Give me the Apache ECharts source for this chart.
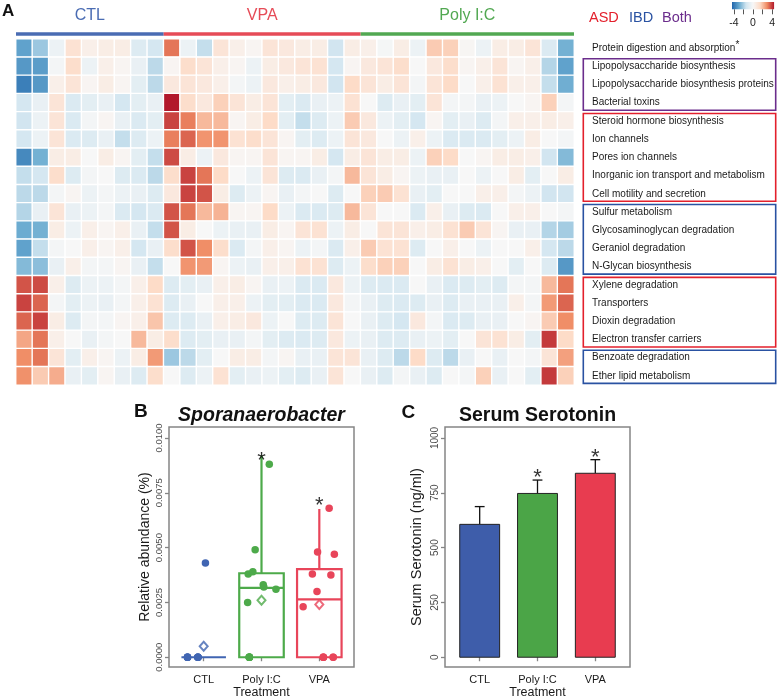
<!DOCTYPE html>
<html><head><meta charset="utf-8">
<script src="https://cdn.jsdelivr.net/npm/echarts@6/dist/echarts.min.js"></script>
<style>html,body{margin:0;padding:0;background:#fff}#c{width:778px;height:700px}</style>
</head><body><div id="c"></div>
<script>
const FONT = '"Liberation Sans", Arial, sans-serif';

// ---------- Panel A: heatmap ----------
const groupNames = ['CTL', 'VPA', 'Poly I:C'];
const groupSizes = [9, 12, 13];
const pathways = [
  'Protein digestion and absorption*',
  'Lipopolysaccharide biosynthesis',
  'Lipopolysaccharide biosynthesis proteins',
  'Bacterial toxins',
  'Steroid hormone biosynthesis',
  'Ion channels',
  'Pores ion channels',
  'Inorganic ion transport and metabolism',
  'Cell motility and secretion',
  'Sulfur metabolism',
  'Glycosaminoglycan degradation',
  'Geraniol degradation',
  'N-Glycan biosynthesis',
  'Xylene degradation',
  'Transporters',
  'Dioxin degradation',
  'Electron transfer carriers',
  'Benzoate degradation',
  'Ether lipid metabolism'
];
const heatValues = [
  [-2.8,-2.0,-0.4,1.0,0.4,0.5,0.5,-0.9,-1.2, 2.9,-0.4,-1.5,0.9,0.4,0.15,0.9,0.7,0.5,0.5,-1.3,0.5, 0.4,-0.1,0.5,-0.4,1.6,1.5,0.1,-0.4,0.5,0.5,0.9,-1.0,-2.5],
  [-3.0,-2.9,-0.15,1.2,-0.4,0.4,0.15,-0.5,-1.6, 0.15,1.2,0.9,0.4,0.15,-0.4,0.5,0.7,0.9,1.0,-1.2,0.15, 0.7,0.9,1.2,0.0,0.7,1.2,0.15,0.4,0.9,0.15,0.4,-1.7,-2.8],
  [-3.5,-3.0,0.4,0.9,0.15,0.5,0.15,-0.7,-1.6, 0.7,0.9,0.7,0.4,-0.15,-0.4,0.7,0.4,0.5,0.7,-1.3,1.3, 0.9,0.5,0.9,-0.15,0.9,1.3,0.0,0.4,1.0,0.4,0.4,-1.5,-2.55],
  [-1.2,-0.5,0.9,-1.0,-0.7,-0.5,-1.2,-0.7,-0.5, 4.0,1.2,0.7,1.5,0.9,0.5,0.9,-0.7,-1.0,-0.5,-0.4,1.0, 0.0,-0.9,-0.5,-0.7,0.9,-0.15,-0.15,-0.5,-0.4,0.0,0.15,1.5,-0.15],
  [-1.3,-0.4,0.9,-1.0,-0.15,0.15,-0.5,-1.0,-0.7, 3.5,2.8,1.9,1.9,0.15,0.5,1.3,-0.7,-1.5,-0.9,-0.4,1.6, 0.7,-0.4,-0.7,-1.2,0.15,-0.7,-0.5,-0.9,-0.15,0.4,0.4,0.5,0.4],
  [-1.2,-0.4,0.9,-1.0,-0.9,-0.5,-1.5,-0.9,-0.4, 2.8,3.1,2.5,2.5,1.0,1.2,0.9,0.15,-0.7,-0.9,-0.4,0.9, 0.7,0.0,-0.4,0.4,-0.4,-1.0,-1.0,-1.0,-0.7,-0.4,0.5,0.0,-0.15],
  [-3.3,-2.5,0.5,0.5,0.0,0.5,0.15,-0.7,-1.5, 3.4,0.5,-0.4,0.7,0.15,0.15,0.9,0.15,0.15,0.5,-1.2,0.5, 0.9,0.5,0.5,-0.4,1.5,1.3,0.0,0.15,0.5,0.5,0.4,-1.3,-2.3],
  [-1.5,-1.2,1.2,-0.9,-0.15,0.0,-0.9,-1.0,-1.6, 1.2,3.5,2.9,1.3,0.0,-0.4,0.9,-0.9,-1.0,-0.5,-0.15,1.9, 0.9,0.5,0.15,-0.4,-0.5,-0.5,0.0,-0.4,0.0,0.5,-0.7,0.0,0.5],
  [-1.6,-1.6,-0.15,0.15,-0.4,-0.15,-0.4,-0.5,-0.9, 0.7,3.5,3.3,0.5,-0.9,-0.4,0.15,-0.5,-0.15,0.0,-0.9,0.0, 1.5,1.6,1.0,-0.5,-0.7,0.0,0.0,0.4,0.4,-0.15,-0.4,-1.3,-1.3],
  [-1.7,-0.5,0.9,-0.5,-0.4,-0.15,-1.0,-1.2,-1.0, 3.3,2.9,1.9,2.0,0.15,0.15,1.3,-0.4,-1.0,-1.0,-0.9,1.9, 0.9,0.0,0.0,-1.0,0.4,-0.5,-0.9,-1.0,0.0,0.4,0.4,0.0,-0.15],
  [-2.6,-2.5,0.5,-0.4,0.4,0.15,0.4,-0.5,-1.5, 3.3,0.5,0.0,-0.4,-0.5,-0.5,0.5,0.15,0.9,1.0,-0.4,0.5, 0.0,0.9,0.9,0.4,0.5,1.0,1.6,0.9,0.15,-0.5,-0.5,-1.7,-1.9],
  [-2.8,-1.5,-0.15,0.0,0.4,0.15,0.4,-1.2,-0.5, 1.2,3.3,2.6,1.2,-1.0,-0.15,0.4,0.15,-0.4,-0.15,-1.0,0.4, 1.6,1.0,1.0,-0.9,0.0,0.4,0.0,-0.4,0.0,0.0,0.4,-1.2,-1.6],
  [-2.3,-2.2,-0.5,0.4,-0.15,-0.15,0.15,-0.5,-1.5, 0.0,2.5,2.4,0.15,-0.4,-0.5,0.4,0.4,1.0,1.0,-0.9,-0.4, 1.2,1.5,1.5,0.0,0.5,1.0,0.5,0.4,0.0,-0.7,0.0,-0.9,-3.0],
  [3.3,3.4,0.4,-0.9,-0.4,-0.4,-0.15,0.4,1.3, -0.9,-0.7,-0.5,0.4,0.5,0.15,-0.5,-0.4,-1.0,-1.0,0.7,-0.4, -0.9,-1.0,-1.0,0.0,-0.5,-1.0,-0.9,-0.7,-0.9,-0.15,-0.15,1.9,2.9],
  [3.5,3.1,-0.15,-0.7,-0.4,-0.5,-0.15,0.4,1.0, -0.9,-0.5,0.0,0.4,0.4,-0.4,-0.7,-0.7,-1.0,-1.0,0.7,-0.15, -0.5,-0.9,-1.0,-0.9,-0.5,-0.9,-0.5,-0.5,-0.5,0.4,-0.15,2.4,3.1],
  [3.1,3.5,0.5,-0.9,-0.15,-0.15,0.15,0.4,1.7, -0.9,-0.9,-0.5,0.4,0.5,0.7,-0.4,0.0,-0.9,-0.9,0.9,0.0, -0.5,-0.9,-1.2,0.7,-0.15,-1.0,-0.9,-0.5,-0.5,0.0,0.15,1.6,2.6],
  [2.2,2.9,0.4,0.0,-0.5,-0.15,0.0,1.9,0.5, 1.2,-0.9,-0.7,-0.5,-0.5,-0.15,-0.7,-0.9,-1.0,-0.9,0.7,-0.4, -0.5,-0.9,-0.9,-0.5,-0.4,-0.7,0.0,0.9,1.0,0.5,-0.7,3.6,1.3],
  [2.6,2.9,0.9,-0.7,0.4,0.15,-0.4,0.5,2.4, -2.0,-1.6,-0.7,0.0,0.5,0.5,-0.15,0.15,-0.5,-0.5,0.9,0.9, -0.5,-0.9,-1.6,1.3,-0.9,-1.6,-0.5,0.0,-0.5,0.0,-0.15,0.9,2.3],
  [2.55,1.6,2.1,-0.5,-0.7,0.15,-0.5,-0.9,1.2, 0.0,-0.9,-0.4,1.0,-0.7,-0.5,-0.4,-0.7,-0.9,-0.5,0.9,0.0, -0.5,-0.9,-0.15,-0.5,-0.9,0.0,-0.15,1.5,-0.5,0.0,-0.7,3.6,1.5]
];
// pathway group boxes: [first row, last row, category]
const rowBoxes = [[1, 3, 'Both'], [4, 8, 'ASD'], [9, 12, 'IBD'], [13, 16, 'ASD'], [17, 18, 'IBD']];
const legendCats = ['ASD', 'IBD', 'Both'];
const colorbarTicks = [-4, 0, 4];

// ---------- Panel B: Sporanaerobacter ----------
const treatments = ['CTL', 'Poly I:C', 'VPA'];
const abundCTL = [0, 0, 0, 0, 0, 0, 0, 0, 0.0043];
const jitterCTL = [-0.28, -0.1, -0.28, -0.1, -0.28, -0.1, -0.28, -0.1, 0.03];
const abundPoly = [0.0088, 0.0049, 0.0038, 0.0039, 0.0033, 0.0032, 0.0031, 0.0025, 0, 0, 0, 0, 0];
const jitterPoly = [0.135, -0.11, -0.23, -0.15, 0.03, 0.04, 0.25, -0.24, -0.21, -0.21, -0.21, -0.21, -0.21];
const abundVPA = [0.0068, 0.0048, 0.0047, 0.0038, 0.00375, 0.0030, 0.0023, 0, 0, 0, 0, 0];
const jitterVPA = [0.17, -0.03, 0.26, -0.12, 0.2, -0.04, -0.28, 0.07, 0.24, 0.07, 0.24, 0.07];
const boxLow = [0, 0, 0];
const boxQ1 = [0, 0, 0];
const boxMedian = [0, 0.00316, 0.00264];
const boxQ3 = [0, 0.00383, 0.00402];
const boxHigh = [0, 0.0092, 0.00676];
const abundMean = [0.0005, 0.0026, 0.0024];
const starB = [null, 0.00917, 0.00711];
const yTicksB = [0, 0.0025, 0.005, 0.0075, 0.01];

// ---------- Panel C: Serum serotonin ----------
const serotoninMean = [606, 747, 839];
const serotoninSE = [81, 61, 62];
const starC = [null, 842, 932];
const yTicksC = [0, 250, 500, 750, 1000];

// ---------- styling ----------
const rdbu = ['#2166AC', '#67A9CF', '#D1E5F0', '#F7F7F7', '#FDDBC7', '#EF8A62', '#B2182B'];
const groupColors = ['#4A6CB3', '#E64B57', '#52A852'];
const treatColors = ['#4065B2', '#4DAA4A', '#E8455A'];
const barColors = ['#3E5DAA', '#4BA547', '#E83C50'];
const catColors = {ASD: '#E3202C', IBD: '#2A52A2', Both: '#6B2D8C'};
const frameColor = '#858585';

const nCols = groupSizes.reduce((a, b) => a + b, 0);
const colIdx = Array.from({length: nCols}, (_, i) => String(i));
const heatData = [];
heatValues.forEach((row, r) => row.forEach((v, c) => heatData.push([c, r, v])));
let acc = 0;
const groupSpans = groupSizes.map((n, i) => { const s = [acc, 0, acc + n - 1, i]; acc += n; return s; });
const boxData = rowBoxes.map(b => [0, b[0], b[1], legendCats.indexOf(b[2])]);

function pointsOf(vals, jit, i) { return vals.map((v, k) => [i + 1 + jit[k], v]); }

const chart = echarts.init(document.getElementById('c'));
const option = {
  animation: false,
  backgroundColor: '#fff',
  textStyle: {fontFamily: FONT},
  visualMap: {show: false, type: 'continuous', min: -4, max: 4, seriesIndex: 0, dimension: 2, inRange: {color: rdbu}},
  grid: [
    {left: 16, top: 39, width: 558, height: 346},
    {left: 734, top: 2, width: 42, height: 7.3},
    {left: 169, top: 427, width: 185, height: 242, show: true, borderColor: frameColor, borderWidth: 1.5},
    {left: 445, top: 427, width: 185, height: 242, show: true, borderColor: frameColor, borderWidth: 1.5}
  ],
  xAxis: [
    {type: 'category', gridIndex: 0, data: colIdx, show: false},
    {type: 'value', gridIndex: 1, min: -4, max: 4, interval: 2, axisLine: {show: false}, splitLine: {show: false},
      axisTick: {show: true, length: 5, lineStyle: {color: '#555', width: 1}},
      axisLabel: {margin: 8, fontSize: 10.5, color: '#222', formatter: v => (colorbarTicks.indexOf(v) >= 0 ? String(v) : '')}},
    {type: 'value', gridIndex: 2, min: 0.4, max: 3.6, axisLine: {show: false}, splitLine: {show: false},
      axisTick: {show: true, customValues: [1, 2, 3], length: 4, lineStyle: {color: frameColor, width: 1.3}},
      axisLabel: {customValues: [1, 2, 3], formatter: v => treatments[Math.round(v) - 1], margin: 7, fontSize: 11, color: '#1a1a1a'},
      name: 'Treatment', nameLocation: 'middle', nameGap: 18, nameTextStyle: {fontSize: 12.5, color: '#1a1a1a'}},
    {type: 'value', gridIndex: 3, min: 0.4, max: 3.6, axisLine: {show: false}, splitLine: {show: false},
      axisTick: {show: true, customValues: [1, 2, 3], length: 4, lineStyle: {color: frameColor, width: 1.3}},
      axisLabel: {customValues: [1, 2, 3], formatter: v => treatments[Math.round(v) - 1], margin: 7, fontSize: 11, color: '#1a1a1a'},
      name: 'Treatment', nameLocation: 'middle', nameGap: 18, nameTextStyle: {fontSize: 12.5, color: '#1a1a1a'}}
  ],
  yAxis: [
    {type: 'category', gridIndex: 0, data: pathways, inverse: true, position: 'right',
      axisLine: {show: false}, axisTick: {show: false},
      axisLabel: {margin: 18, fontSize: 10, color: '#1a1a1a', interval: 0,
        formatter: v => v.endsWith('*') ? v.slice(0, -1) + '{s|*}' : v,
        rich: {s: {fontSize: 10, padding: [0, 0, 6, 0], color: '#1a1a1a'}}}},
    {type: 'value', gridIndex: 1, min: 0, max: 1, show: false},
    {type: 'value', gridIndex: 2, min: -0.00045, max: 0.0105, axisLine: {show: false}, splitLine: {show: false},
      axisTick: {show: true, customValues: yTicksB, length: 4, lineStyle: {color: frameColor, width: 1.3}},
      axisLabel: {customValues: yTicksB, formatter: v => v.toFixed(4), rotate: 90, margin: 5, fontSize: 9.5, color: '#4d4d4d'},
      name: 'Relative abundance (%)', nameLocation: 'middle', nameRotate: 90, nameGap: 17, nameTextStyle: {fontSize: 14, color: '#1a1a1a'}},
    {type: 'value', gridIndex: 3, min: -45, max: 1050, axisLine: {show: false}, splitLine: {show: false},
      axisTick: {show: true, customValues: yTicksC, length: 4, lineStyle: {color: frameColor, width: 1.3}},
      axisLabel: {customValues: yTicksC, formatter: v => String(v), rotate: 90, margin: 5, fontSize: 10, color: '#4d4d4d'},
      name: 'Serum Serotonin (ng/ml)', nameLocation: 'middle', nameRotate: 90, nameGap: 21, nameTextStyle: {fontSize: 14.5, color: '#1a1a1a'}}
  ],
  series: [
    {type: 'heatmap', xAxisIndex: 0, yAxisIndex: 0, data: heatData,
      itemStyle: {borderColor: '#fff', borderWidth: 1.4}, emphasis: {disabled: true}},
    {type: 'custom', xAxisIndex: 0, yAxisIndex: 0, data: groupSpans, encode: {x: 0, y: 1}, clip: false,
      renderItem: (params, api) => {
        const s = api.value(0), e = api.value(2), gi = api.value(3);
        const size = api.size([1, 1]);
        const x0 = api.coord([s, 0])[0] - size[0] / 2, x1 = api.coord([e, 0])[0] + size[0] / 2;
        const top = params.coordSys.y;
        return {type: 'group', children: [
          {type: 'rect', shape: {x: x0, y: top - 6.7, width: x1 - x0, height: 3.4}, style: {fill: groupColors[gi]}},
          {type: 'text', style: {text: groupNames[gi], x: (x0 + x1) / 2, y: top - 23, align: 'center', verticalAlign: 'middle',
            fill: groupColors[gi], fontSize: 16, fontFamily: FONT}}
        ]};
      }},
    {type: 'custom', xAxisIndex: 0, yAxisIndex: 0, data: boxData, encode: {x: 0, y: 1}, clip: false,
      renderItem: (params, api) => {
        const r0 = api.value(1), r1 = api.value(2), ci = api.value(3);
        const size = api.size([1, 1]);
        const cs = params.coordSys;
        const y0 = api.coord([0, r0])[1] - size[1] / 2 + 1.6;
        const y1 = api.coord([0, r1])[1] + size[1] / 2 - 1.6;
        const x0 = cs.x + cs.width + 9.3;
        return {type: 'rect', shape: {x: x0, y: y0, width: 192.4, height: y1 - y0},
          style: {fill: 'none', stroke: catColors[legendCats[ci]], lineWidth: 1.6}};
      }},
    {type: 'custom', xAxisIndex: 1, yAxisIndex: 1, data: [[0, 0.5]], encode: {x: 0, y: 1}, clip: false,
      renderItem: (params, api) => {
        const cs = params.coordSys;
        return {type: 'rect', shape: {x: cs.x - 2, y: cs.y, width: cs.width + 4, height: cs.height},
          style: {fill: new echarts.graphic.LinearGradient(0, 0, 1, 0, rdbu.map((c, i) => ({offset: i / (rdbu.length - 1), color: c})))}};
      }},
    {type: 'custom', xAxisIndex: 2, yAxisIndex: 2, encode: {x: 0, y: 3},
      data: treatments.map((t, i) => [i + 1, boxLow[i], boxQ1[i], boxMedian[i], boxQ3[i], boxHigh[i], i]),
      renderItem: (params, api) => {
        const x = api.value(0), lo = api.value(1), q1 = api.value(2), md = api.value(3), q3 = api.value(4), hi = api.value(5), i = api.value(6);
        const hw = 0.385;
        const st = {stroke: treatColors[i], lineWidth: 2.2, fill: 'none'};
        const ch = [];
        const a = api.coord([x - hw, q3]), b = api.coord([x + hw, q1]);
        if (q3 > q1) ch.push({type: 'rect', shape: {x: a[0], y: a[1], width: b[0] - a[0], height: b[1] - a[1]}, style: st});
        const m1 = api.coord([x - hw, md]), m2 = api.coord([x + hw, md]);
        ch.push({type: 'line', shape: {x1: m1[0], y1: m1[1], x2: m2[0], y2: m2[1]}, style: st});
        const t1 = api.coord([x, q3]), t2 = api.coord([x, hi]);
        if (hi > q3) ch.push({type: 'line', shape: {x1: t1[0], y1: t1[1], x2: t2[0], y2: t2[1]}, style: st});
        const l1 = api.coord([x, q1]), l2 = api.coord([x, lo]);
        if (q1 > lo) ch.push({type: 'line', shape: {x1: l1[0], y1: l1[1], x2: l2[0], y2: l2[1]}, style: st});
        return {type: 'group', children: ch};
      }},
    {type: 'scatter', xAxisIndex: 2, yAxisIndex: 2, data: pointsOf(abundCTL, jitterCTL, 0), symbolSize: 7.5, itemStyle: {color: treatColors[0], opacity: 1}},
    {type: 'scatter', xAxisIndex: 2, yAxisIndex: 2, data: pointsOf(abundPoly, jitterPoly, 1), symbolSize: 7.5, itemStyle: {color: treatColors[1], opacity: 1}},
    {type: 'scatter', xAxisIndex: 2, yAxisIndex: 2, data: pointsOf(abundVPA, jitterVPA, 2), symbolSize: 7.5, itemStyle: {color: treatColors[2], opacity: 1}},
    {type: 'scatter', xAxisIndex: 2, yAxisIndex: 2, symbol: 'emptyDiamond', symbolSize: [8, 9],
      data: abundMean.map((m, i) => ({value: [i + 1, m], itemStyle: {color: treatColors[i], borderColor: treatColors[i], borderWidth: 1.2}}))},
    {type: 'scatter', xAxisIndex: 2, yAxisIndex: 2, symbolSize: 1, itemStyle: {color: 'rgba(0,0,0,0)'},
      data: starB.map((s, i) => [i + 1, s]).filter(d => d[1] !== null),
      label: {show: true, formatter: '*', position: 'inside', offset: [0, 5], fontSize: 22, color: '#000', fontFamily: FONT}},
    {type: 'custom', xAxisIndex: 3, yAxisIndex: 3, encode: {x: 0, y: 1},
      data: treatments.map((t, i) => [i + 1, serotoninMean[i], serotoninSE[i], i]),
      renderItem: (params, api) => {
        const x = api.value(0), m = api.value(1), se = api.value(2), i = api.value(3);
        const hw = 0.345, cw = 0.085;
        const a = api.coord([x - hw, m]), b = api.coord([x + hw, 0]);
        const e1 = api.coord([x, m]), e2 = api.coord([x, m + se]);
        const c1 = api.coord([x - cw, m + se]), c2 = api.coord([x + cw, m + se]);
        const ls = {stroke: '#111', lineWidth: 1.3};
        return {type: 'group', children: [
          {type: 'line', shape: {x1: e1[0], y1: e1[1], x2: e2[0], y2: e2[1]}, style: ls},
          {type: 'line', shape: {x1: c1[0], y1: c1[1], x2: c2[0], y2: c2[1]}, style: ls},
          {type: 'rect', shape: {x: a[0], y: a[1], width: b[0] - a[0], height: b[1] - a[1]}, style: {fill: barColors[i], stroke: '#222', lineWidth: 1}}
        ]};
      }},
    {type: 'scatter', xAxisIndex: 3, yAxisIndex: 3, symbolSize: 1, itemStyle: {color: 'rgba(0,0,0,0)'},
      data: starC.map((s, i) => [i + 1, s]).filter(d => d[1] !== null),
      label: {show: true, formatter: '*', position: 'inside', offset: [0, 5], fontSize: 22, color: '#000', fontFamily: FONT}}
  ],
  graphic: [
    {type: 'text', x: 2, y: 11, style: {text: 'A', fontSize: 17, fontWeight: 'bold', fill: '#111', verticalAlign: 'middle', fontFamily: FONT}},
    {type: 'text', x: 134, y: 412, style: {text: 'B', fontSize: 19, fontWeight: 'bold', fill: '#111', verticalAlign: 'middle', fontFamily: FONT}},
    {type: 'text', x: 401.5, y: 412.5, style: {text: 'C', fontSize: 19, fontWeight: 'bold', fill: '#111', verticalAlign: 'middle', fontFamily: FONT}},
    {type: 'text', x: 261.5, y: 415.5, style: {text: 'Sporanaerobacter', align: 'center', verticalAlign: 'middle', fontSize: 19.5, fontWeight: 'bold', fontStyle: 'italic', fill: '#111', fontFamily: FONT}},
    {type: 'text', x: 537.5, y: 415.5, style: {text: 'Serum Serotonin', align: 'center', verticalAlign: 'middle', fontSize: 19.5, fontWeight: 'bold', fill: '#111', fontFamily: FONT}},
    {type: 'text', x: 589, y: 18, style: {text: legendCats[0], fill: catColors.ASD, fontSize: 14.5, verticalAlign: 'middle', fontFamily: FONT}},
    {type: 'text', x: 629, y: 18, style: {text: legendCats[1], fill: catColors.IBD, fontSize: 14.5, verticalAlign: 'middle', fontFamily: FONT}},
    {type: 'text', x: 662, y: 18, style: {text: legendCats[2], fill: catColors.Both, fontSize: 14.5, verticalAlign: 'middle', fontFamily: FONT}}
  ]
};
chart.setOption(option);
</script>
</body></html>
